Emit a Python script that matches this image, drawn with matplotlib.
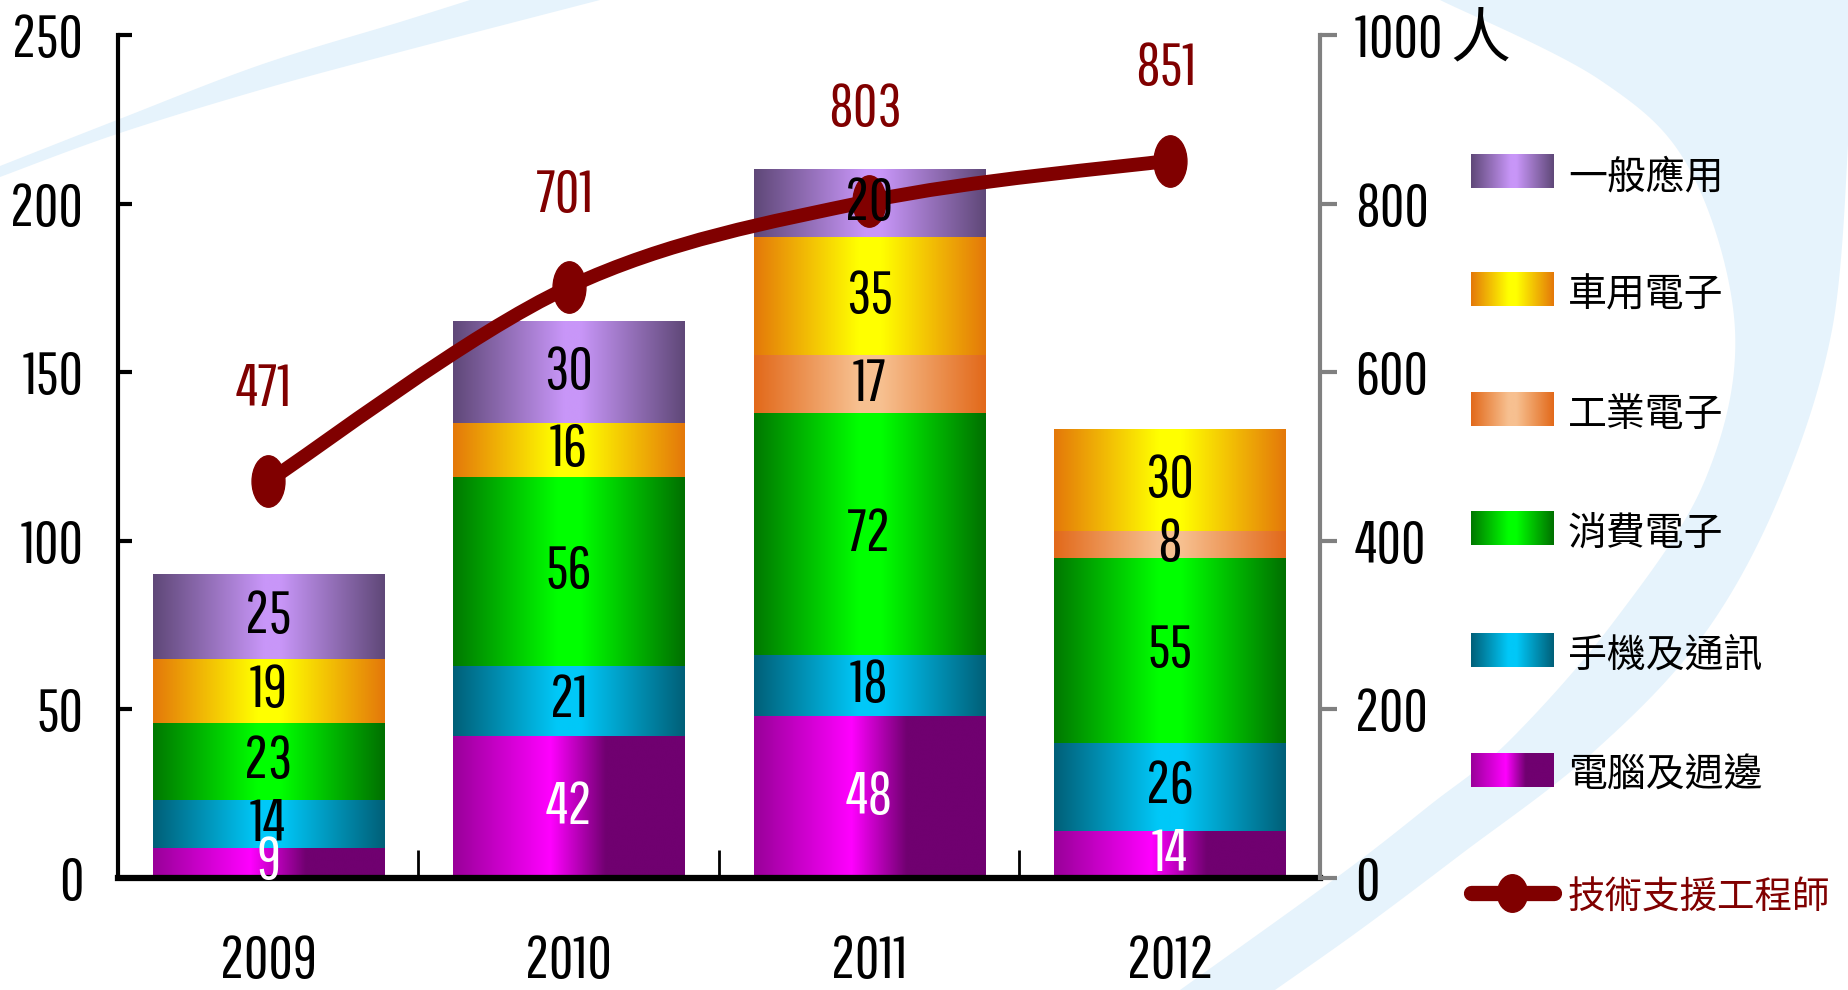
import numpy as np
import matplotlib
matplotlib.use("Agg")
import matplotlib.pyplot as plt
from matplotlib.colors import LinearSegmentedColormap
from matplotlib.path import Path
from matplotlib.patches import PathPatch, Polygon
from matplotlib.transforms import Affine2D
from matplotlib.lines import Line2D

# ---- data ----
years = ['2009', '2010', '2011', '2012']
pc = [9, 42, 48, 14]            # 電腦及週邊
phone = [14, 21, 18, 26]        # 手機及通訊
consumer = [23, 56, 72, 55]     # 消費電子
industrial = [0, 0, 17, 8]      # 工業電子
auto = [19, 16, 35, 30]         # 車用電子
general = [25, 30, 20, 0]       # 一般應用
engineers = [471, 701, 803, 851]  # 技術支援工程師 (人)

seg_names = ['電腦及週邊', '手機及通訊', '消費電子', '工業電子', '車用電子', '一般應用']
seg_values = [pc, phone, consumer, industrial, auto, general]
line_name = '技術支援工程師'
left_ticks = [0, 50, 100, 150, 200, 250]
right_ticks = [0, 200, 400, 600, 800, 1000]
right_labels = ['0', '200', '400', '600', '800', '1000 人']

# 漸層色 (左 -> 中 -> 右)
seg_grads = [
    [(0, '#990099'), (0.42, '#ff00ff'), (0.66, '#700070'), (1, '#700070')],
    [(0, '#005f78'), (0.45, '#00c8f8'), (0.55, '#00c8f8'), (1, '#005f78')],
    [(0, '#007800'), (0.45, '#00ff00'), (0.55, '#00ff00'), (1, '#007000')],
    [(0, '#e2691a'), (0.45, '#f7c090'), (0.55, '#f7c090'), (1, '#e2691a')],
    [(0, '#e4780a'), (0.45, '#ffff00'), (0.55, '#ffff00'), (1, '#e4780a')],
    [(0, '#5f4878'), (0.48, '#c896f8'), (0.55, '#c896f8'), (1, '#5f4878')],
]
seg_text = ['white', 'black', 'black', 'black', 'black', 'black']
LINE_C = '#800000'

W, H = 1849, 990
plt.rcParams['font.family'] = ['Pathway Gothic One', 'Noto Sans CJK TC', 'DejaVu Sans']
plt.rcParams['axes.unicode_minus'] = False
FS = 43
CJK = ['Noto Sans CJK TC', 'DejaVu Sans']

fig = plt.figure(figsize=(W / 100, H / 100), dpi=100)

# ---- background swooshes ----
bg = fig.add_axes([0, 0, 1, 1], zorder=-5)
bg.set_xlim(0, W)
bg.set_ylim(H, 0)
bg.axis('off')
BLUE = '#e6f3fc'


def smooth(pts, n=30):
    pts = np.asarray(pts, float)
    out = []
    for i in range(len(pts) - 1):
        p0 = pts[max(i - 1, 0)]
        p1 = pts[i]
        p2 = pts[i + 1]
        p3 = pts[min(i + 2, len(pts) - 1)]
        for t in np.linspace(0, 1, n, endpoint=False):
            t2, t3 = t * t, t * t * t
            out.append(0.5 * ((2 * p1) + (-p0 + p2) * t + (2 * p0 - 5 * p1 + 4 * p2 - p3) * t2
                              + (-p0 + 3 * p1 - 3 * p2 + p3) * t3))
    out.append(pts[-1])
    return np.array(out)


upper = smooth([(0, 166), (117, 120), (260, 65), (400, 22), (470, 0)])
lower = smooth([(0, 177), (117, 134), (260, 90), (400, 52), (600, 0)])
bg.add_patch(Polygon(np.vstack([upper, lower[::-1]]), closed=True, fc=BLUE, ec='none'))

inner = smooth([(1440, 0), (1600, 80), (1690, 170), (1735, 330), (1705, 480), (1615, 620),
                (1510, 740), (1430, 805), (1340, 875), (1180, 990)])
outer = smooth([(1275, 990), (1360, 930), (1460, 855), (1590, 755), (1700, 640), (1778, 500),
                (1832, 330), (1849, 130)])
bg.add_patch(Polygon(np.vstack([inner, outer, [(1849, 0)]]), closed=True, fc=BLUE, ec='none'))

# ---- main axes ----
ax = fig.add_axes([118 / W, 1 - 878 / H, (1320 - 118) / W, (878 - 35) / H])
ax.patch.set_visible(False)
x = np.arange(len(years))
bw = 0.77

grad = np.linspace(0, 1, 256).reshape(1, -1)
bottom = np.zeros(len(years))
label_items = []
for name, vals, stops, tc in zip(seg_names, seg_values, seg_grads, seg_text):
    cmap = LinearSegmentedColormap.from_list(name, stops)
    bars = ax.bar(x, vals, bw, bottom=bottom, color='none', edgecolor='none', label=name)
    for rect, v in zip(bars, vals):
        if v == 0:
            continue
        x0, y0 = rect.get_x(), rect.get_y()
        ax.imshow(grad, cmap=cmap, extent=(x0, x0 + rect.get_width(), y0, y0 + rect.get_height()),
                  aspect='auto', interpolation='bilinear', zorder=2)
        label_items.append((rect.get_x() + rect.get_width() / 2, y0 + rect.get_height() / 2, v, tc))
    bottom += np.array(vals)

ax.set_xlim(-0.5, len(years) - 0.5)
ax.set_ylim(0, 250)
ax.set_yticks(left_ticks)
ax.set_yticklabels([str(t) for t in left_ticks])
ax.tick_params(axis='y', direction='in', length=10, width=3, pad=25, labelsize=FS)
ax.set_xticks(np.arange(-0.5, len(years), 1.0))
ax.set_xticklabels([])
ax.tick_params(axis='x', which='major', direction='in', length=20, width=2)
ax.set_xticks(x, minor=True)
ax.set_xticklabels(years, minor=True)
ax.tick_params(axis='x', which='minor', length=0, pad=40, labelsize=FS)
for s in ['top', 'right']:
    ax.spines[s].set_visible(False)
ax.spines['left'].set_linewidth(3)
ax.spines['bottom'].set_linewidth(4.5)

# ---- right axis / line ----
ax2 = ax.twinx()
ax2.patch.set_visible(False)
ax2.set_ylim(0, 1000)
ax2.set_yticks(right_ticks)
ax2.set_yticklabels(right_labels)
ax2.tick_params(axis='y', direction='out', length=12, width=3, color='#808080', pad=13, labelsize=FS)
for s in ['top', 'left', 'bottom']:
    ax2.spines[s].set_visible(False)
ax2.spines['right'].set_color('#808080')
ax2.spines['right'].set_linewidth(3)

# 平滑折線 (Bezier 通過各資料點)
pts = np.column_stack([x, engineers]).astype(float)
verts = [pts[0]]
codes = [Path.MOVETO]
for i in range(len(pts) - 1):
    p0 = pts[max(i - 1, 0)]
    p1, p2 = pts[i], pts[i + 1]
    p3 = pts[min(i + 2, len(pts) - 1)]
    verts += [p1 + (p2 - p0) / 6, p2 - (p3 - p1) / 6, p2]
    codes += [Path.CURVE4] * 3
ax2.add_patch(PathPatch(Path(verts, codes), fc='none', ec=LINE_C, lw=10, capstyle='round', zorder=3))

ellipse = Path.unit_circle().transformed(Affine2D().scale(0.64, 1.0))
ax2.plot(x, engineers, ls='none', marker=ellipse, ms=37, color=LINE_C, zorder=4)
for xi, v in zip(x, engineers):
    ax2.annotate(str(v), (xi, v), xytext=(-3, 66), textcoords='offset points',
                 ha='center', va='center', fontsize=FS, color=LINE_C)

for cx, cy, v, tc in label_items:
    ax2.text(cx, cy, str(v), transform=ax.transData, ha='center', va='center',
             fontsize=FS, color=tc, zorder=6)

# ---- 圖例 (手動繪製以顯示漸層) ----
leg_y = [171, 289, 409, 528, 650, 770]
for yy, name, stops in zip(leg_y, seg_names[::-1], seg_grads[::-1]):
    cmap = LinearSegmentedColormap.from_list('leg_' + name, stops)
    bg.imshow(grad, cmap=cmap, extent=(1471, 1554, yy + 17, yy - 17), aspect='auto',
              interpolation='bilinear', zorder=2)
    bg.text(1568, yy + 6, name, fontsize=28, ha='left', va='center', color='black', family=CJK)
bg.add_line(Line2D([1471, 1554], [893, 893], color=LINE_C, lw=11, solid_capstyle='round'))
bg.plot([1512], [893], ls='none', marker=Path.unit_circle().transformed(Affine2D().scale(0.8, 1.0)),
        ms=27, color=LINE_C)
bg.text(1568, 898, line_name, fontsize=27, ha='left', va='center', color=LINE_C, family=CJK)
bg.set_xlim(0, W)
bg.set_ylim(H, 0)

fig.savefig('out.png', dpi=100)
